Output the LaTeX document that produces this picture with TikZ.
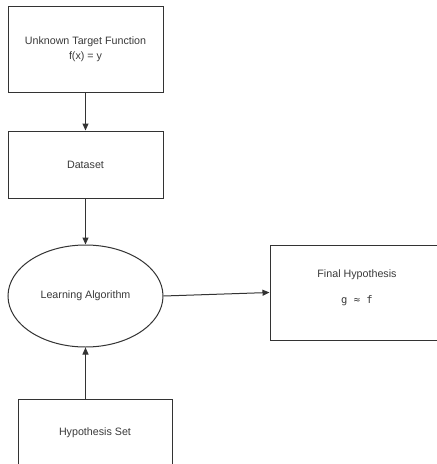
\documentclass[tikz,border=0pt]{standalone}
\usepackage{fontspec}
\setmainfont{Liberation Sans}
\newfontfamily\monofnt{DejaVu Sans Mono}
\usetikzlibrary{shapes.geometric,arrows.meta}
\definecolor{ln}{HTML}{333333}
\definecolor{tx}{HTML}{3a3a3a}
\tikzset{
  box/.style={draw=ln,line width=1pt,rectangle,inner sep=0pt,text=tx,font=\fontsize{10.7}{15}\selectfont,align=center},
  ell/.style={draw=ln,line width=1pt,ellipse,inner sep=0pt,text=tx,font=\fontsize{10.7}{15}\selectfont},
  lbl/.style={text=tx,inner sep=0pt,font=\fontsize{10.7}{13}\selectfont},
  arr/.style={draw=ln,line width=1pt,-{Triangle[length=7pt,width=6pt]}}
}
\begin{document}
\begin{tikzpicture}[x=1pt,y=-1pt]
\useasboundingbox (0,0) rectangle (437,464);
\clip (0,0) rectangle (437,464);
\fill[white] (0,0) rectangle (437,464);
\node[box,minimum width=155pt,minimum height=86pt] (utf) at (85.5,49) {Unknown Target Function\\f(x) = y};
\node[box,minimum width=155pt,minimum height=67pt] (ds) at (85.5,164.5) {Dataset};
\node[ell,minimum width=155pt,minimum height=102pt] (la) at (85.5,296) {Learning Algorithm};
\node[box,minimum width=174pt,minimum height=95pt] (fh) at (357,292.5) {};
\node[lbl] (fht) at (357,275) {Final Hypothesis};
\node[lbl,font=\monofnt\fontsize{10.5}{13}\selectfont] (gf) at (357,301) {g ≈ f};
\node[box,minimum width=154pt,minimum height=68pt] (hs) at (95,433) {Hypothesis Set};
\draw[arr] (utf.south) -- (ds.north);
\draw[arr] (ds.south) -- (la.north);
\draw[arr] (la.east) -- (fh.west);
\draw[arr] (hs.north -| la.south) -- (la.south);
\end{tikzpicture}
\end{document}
